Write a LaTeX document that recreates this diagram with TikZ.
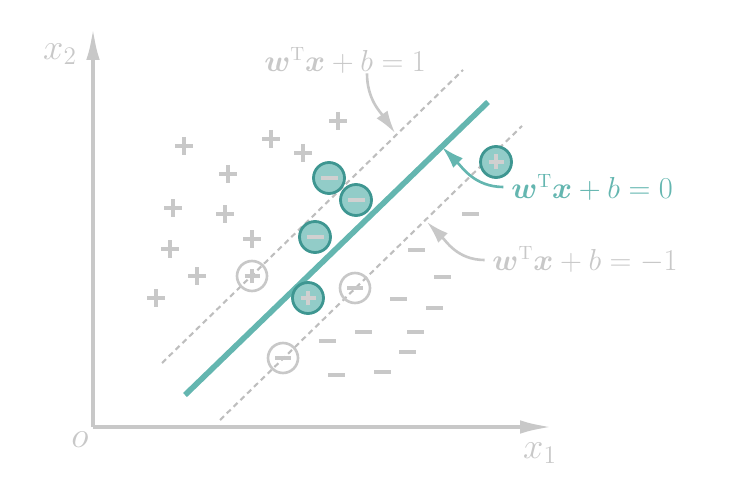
\documentclass[tikz,border=0pt]{standalone}
\usepackage{amsmath}
\usetikzlibrary{arrows.meta}
\definecolor{axisgray}{RGB}{200,200,200}
\definecolor{dashgray}{RGB}{190,190,190}
\definecolor{svmteal}{RGB}{100,182,176}
\definecolor{svmdark}{RGB}{62,150,145}
\tikzstyle{axis} = [axisgray, line width=2.4pt, -{Latex[length=0.66cm,width=0.27cm]}]
\tikzstyle{hyperline} = [svmteal, line width=3.2pt]
\tikzstyle{marginline} = [dashgray, line width=1.2pt, dash pattern=on 0.11cm off 0.08cm]
\tikzstyle{callout} = [line width=1.5pt, -{Latex[length=0.45cm,width=0.27cm]}]
\tikzstyle{mathlabel} = [font=\fontsize{16}{19}\selectfont, text=axisgray, inner sep=0pt]
\tikzstyle{axislabel} = [font=\fontsize{22}{26}\selectfont, text=axisgray, inner sep=0pt]
\tikzstyle{plusmark} = [minimum size=0.36cm, inner sep=0pt, path picture={\draw[axisgray, line width=2pt] (path picture bounding box.north) -- (path picture bounding box.south) (path picture bounding box.west) -- (path picture bounding box.east);}]
\tikzstyle{minusmark} = [minimum width=0.34cm, minimum height=0.07cm, inner sep=0pt, fill=axisgray]
\tikzstyle{gpos} = [circle, draw=axisgray, line width=1.5pt, minimum size=0.6cm, inner sep=0pt, path picture={\draw[axisgray, line width=2pt] (path picture bounding box.center) +(-0.15cm,0) -- +(0.15cm,0) +(0,-0.15cm) -- +(0,0.15cm);}]
\tikzstyle{gneg} = [circle, draw=axisgray, line width=1.5pt, minimum size=0.6cm, inner sep=0pt, path picture={\draw[axisgray, line width=2pt] (path picture bounding box.center) +(-0.16cm,0) -- +(0.16cm,0);}]
\tikzstyle{spos} = [circle, draw=svmdark, fill=svmteal!70!white, line width=1.6pt, minimum size=0.62cm, inner sep=0pt, path picture={\draw[axisgray!85!white, line width=2pt] (path picture bounding box.center) +(-0.15cm,0) -- +(0.15cm,0) +(0,-0.15cm) -- +(0,0.15cm);}]
\tikzstyle{sneg} = [circle, draw=svmdark, fill=svmteal!70!white, line width=1.6pt, minimum size=0.62cm, inner sep=0pt, path picture={\draw[axisgray!85!white, line width=2pt] (path picture bounding box.center) +(-0.17cm,0) -- +(0.17cm,0);}]

\begin{document}
\begin{tikzpicture}[x=0.02cm, y=0.02cm]
    \useasboundingbox (0,0) rectangle (749,480);

    % axes
    \coordinate (O) at (93,53);
    \coordinate (xend) at (553,53);
    \coordinate (yend) at (93,453);
    \draw [axis] (O) -- (xend);
    \draw [axis] (O) -- (yend);
    \node (o) [axislabel] at (80,40) {$o$};
    \node (x1) [axislabel] at (540,27) {$x_1$};
    \node (x2) [axislabel] at (60,426) {$x_2$};

    % hyperplane and margins
    \coordinate (h1) at (185,85);
    \coordinate (h2) at (488,378);
    \coordinate (u1) at (162,117);
    \coordinate (u2) at (463,410);
    \coordinate (l1) at (220,60);
    \coordinate (l2) at (522,354);
    \draw [marginline] (u1) -- (u2);
    \draw [marginline] (l1) -- (l2);
    \draw [hyperline] (h1) -- (h2);

    % positive samples
    \node (p1) [plusmark] at (184,334) {};
    \node (p2) [plusmark] at (271,341) {};
    \node (p3) [plusmark] at (338,359) {};
    \node (p4) [plusmark] at (303,327) {};
    \node (p5) [plusmark] at (228,306) {};
    \node (p6) [plusmark] at (173,272) {};
    \node (p7) [plusmark] at (225,266) {};
    \node (p8) [plusmark] at (252,241) {};
    \node (p9) [plusmark] at (170,231) {};
    \node (p10) [plusmark] at (197,204) {};
    \node (p11) [plusmark] at (156,182) {};
    \node (gp1) [gpos] at (252,204) {};

    % negative samples
    \node (n1) [minusmark] at (470,266) {};
    \node (n2) [minusmark] at (416,230) {};
    \node (n3) [minusmark] at (442,203) {};
    \node (n4) [minusmark] at (398,181) {};
    \node (n5) [minusmark] at (434,172) {};
    \node (n6) [minusmark] at (363,148) {};
    \node (n7) [minusmark] at (415,148) {};
    \node (n8) [minusmark] at (327,139) {};
    \node (n9) [minusmark] at (407,128) {};
    \node (n10) [minusmark] at (336,105) {};
    \node (n11) [minusmark] at (382,108) {};
    \node (gn1) [gneg] at (355,192) {};
    \node (gn2) [gneg] at (283,122) {};

    % highlighted samples
    \node (sn1) [sneg] at (329,302) {};
    \node (sn2) [sneg] at (356,280) {};
    \node (sn3) [sneg] at (315,243) {};
    \node (sp1) [spos] at (308,182) {};
    \node (sp2) [spos] at (496,318) {};

    % labels
    \node (lab1) [mathlabel] at (345,420) {$\boldsymbol{w}^{\mathrm{T}}\boldsymbol{x}+b=1$};
    \node (lab0) [mathlabel, text=svmteal] at (592,293) {$\boldsymbol{w}^{\mathrm{T}}\boldsymbol{x}+b=0$};
    \node (labm1) [mathlabel] at (585,220) {$\boldsymbol{w}^{\mathrm{T}}\boldsymbol{x}+b=-1$};
    \coordinate (t1) at (395,347);
    \coordinate (t0) at (442,333);
    \coordinate (tm1) at (427,258);
    \draw [callout, axisgray] ([xshift=0.44cm]lab1.south) to[out=-90, in=125] (t1);
    \draw [callout, svmteal] ([xshift=-0.15cm]lab0.west) to[out=180, in=-45] (t0);
    \draw [callout, axisgray] ([xshift=-0.15cm]labm1.west) to[out=180, in=-45] (tm1);

\end{tikzpicture}
\end{document}
